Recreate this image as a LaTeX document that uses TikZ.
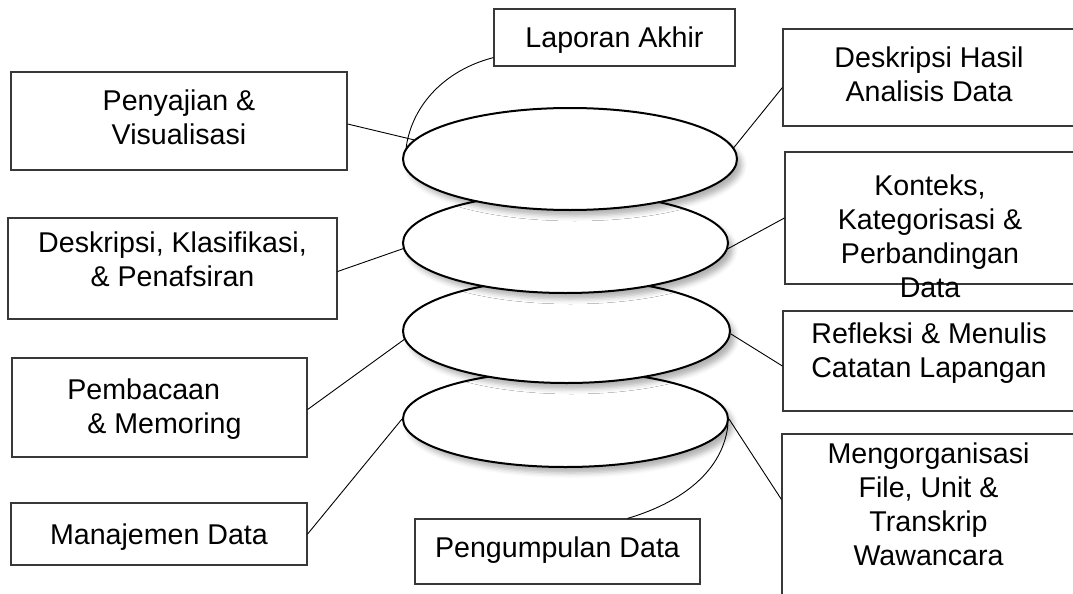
\documentclass[tikz,border=0pt]{standalone}
\usepackage{fontspec}
\setmainfont{Liberation Sans}
\usetikzlibrary{shapes.geometric,shadows.blur,calc}
\newcommand{\lowerln}[1]{\raisebox{-19pt}{#1}}
\begin{document}
\begin{tikzpicture}[x=1pt,y=-1pt,
  box/.style={draw=black!78, line width=1.2pt, fill=white, rectangle, inner sep=0pt,
    align=center, font=\fontsize{28.6}{34}\selectfont},
  disk/.style={ellipse, draw=black, line width=2pt, fill=white, inner sep=0pt,
    blur shadow={shadow xshift=5pt, shadow yshift=-6pt, shadow blur radius=5pt, shadow opacity=30}},
  link/.style={draw=black, line width=0.9pt}]
\useasboundingbox (0,0) rectangle (1073,594);

% boxes
\node[box, minimum width=336pt, minimum height=98pt, text height=50pt, text depth=4pt] (pen) at (179,121) {Penyajian \&\\Visualisasi};
\node[box, minimum width=241pt, minimum height=57pt, text height=30pt, text depth=9pt] (lap) at (614.5,37.5) {Laporan Akhir};
\node[box, minimum width=292pt, minimum height=97pt, text height=50pt, text depth=3pt] (hasil) at (929,77.5) {Deskripsi Hasil\\Analisis Data};
\node[box, minimum width=329pt, minimum height=101pt, text height=45pt, text depth=10pt] (kla) at (172.5,268.5) {Deskripsi, Klasifikasi,\\\& Penafsiran};
\node[box, minimum width=290pt, minimum height=132pt, text height=120pt, text depth=0pt] (kon) at (930,218) {\lowerln{Konteks,}\\\lowerln{Kategorisasi \&}\\\lowerln{Perbandingan}\\\lowerln{Data}};
\node[box, align=left, minimum width=295pt, minimum height=99pt, text height=51pt, text depth=0pt] (pem) at (159.5,407.5) {Pembacaan\\\hspace*{20pt}\& Memoring\hspace*{10pt}};
\node[box, minimum width=292pt, minimum height=100pt, text height=40pt, text depth=8pt] (ref) at (929,361) {Refleksi \& Menulis\\Catatan Lapangan};
\node[box, minimum width=296pt, minimum height=62pt, text height=30pt, text depth=10pt] (man) at (159,534) {Manajemen Data};
\node[box, minimum width=285pt, minimum height=65pt, text height=26pt, text depth=14pt] (pgm) at (557.5,551.5) {Pengumpulan Data};
\node[box, minimum width=293pt, minimum height=166pt, text height=100pt, text depth=4pt] (org) at (928.5,517) {Mengorganisasi\\File, Unit \&\\Transkrip\\Wawancara};

% stacked ellipses (bottom first)
\node[disk, minimum width=325pt, minimum height=96pt] (e4) at (565.5,419) {};
\node[disk, minimum width=327pt, minimum height=104pt] (e3) at (566.5,331) {};
\node[disk, minimum width=325pt, minimum height=100pt] (e2) at (565.5,243) {};
\node[disk, minimum width=334pt, minimum height=102pt] (e1) at (570,159) {};

% connectors
\draw[link] ([yshift=-3pt]pen.east) -- (e1.173);
\draw[link] ([yshift=9pt]lap.south west) .. controls (445,70) and (412,105) .. (e1.176);
\draw[link] (e1.4) -- ([yshift=-10pt]hasil.west);
\draw[link] ([yshift=-3pt]kla.east) -- (e2.182);
\draw[link] (e2.-2) -- (kon.west);
\draw[link] ([yshift=-2pt]pem.east) -- (e3.183);
\draw[link] (e3.-1) -- ([yshift=-5pt]ref.west);
\draw[link] (man.east) -- (e4.180);
\draw[link] (e4.0) -- ([yshift=-66pt]org.north west);
\draw[link] (e4.-2) .. controls (724,465) and (690,500) .. ([xshift=70pt]pgm.north);
\end{tikzpicture}
\end{document}
